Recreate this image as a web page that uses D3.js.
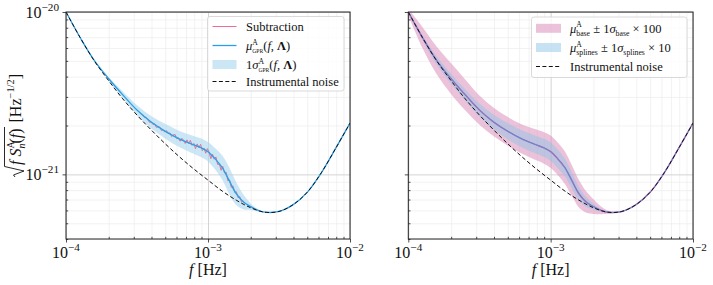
<!DOCTYPE html>
<html>
<head>
<meta charset="utf-8">
<script src="https://cdn.jsdelivr.net/npm/d3@7"></script>
<style>
body { margin: 0; background: #fff; }
svg { display: block; }
</style>
</head>
<body>
<div id="chart"></div>
<script>
// ---- data ----
var noiseF = [1e-4, 1.26e-4, 1.58e-4, 2e-4, 2.51e-4, 3.16e-4, 3.98e-4, 5.01e-4, 6.31e-4, 7.94e-4,
              1e-3, 1.26e-3, 1.58e-3, 2e-3, 2.51e-3, 3.16e-3, 3.98e-3, 5.01e-3, 6.31e-3, 7.94e-3, 1e-2];
var noiseV = [1.00e-20, 6.94e-21, 5.01e-21, 3.77e-21, 2.92e-21, 2.32e-21, 1.88e-21, 1.54e-21, 1.28e-21, 1.08e-21,
              9.22e-22, 7.89e-22, 6.94e-22, 6.23e-22, 5.85e-22, 5.91e-22, 6.51e-22, 7.78e-22, 1.03e-21, 1.45e-21, 2.07e-21];

// GPR mean (left) / spline + base means (right)
var meanF = [1e-4, 1.26e-4, 1.58e-4, 2e-4, 2.51e-4, 3.16e-4, 3.98e-4, 5.01e-4, 6.31e-4, 7.94e-4, 8.91e-4,
             1e-3, 1.12e-3, 1.26e-3, 1.41e-3, 1.58e-3, 1.78e-3, 2e-3, 2.24e-3, 2.51e-3,
             3.16e-3, 3.98e-3, 5.01e-3, 6.31e-3, 7.94e-3, 1e-2];
var meanV = [1.00e-20, 6.94e-21, 5.04e-21, 3.88e-21, 3.09e-21, 2.49e-21, 2.10e-21, 1.84e-21, 1.65e-21, 1.52e-21, 1.46e-21,
             1.38e-21, 1.25e-21, 1.10e-21, 9.15e-22, 7.60e-22, 6.75e-22, 6.33e-22, 6.02e-22, 5.85e-22,
             5.91e-22, 6.51e-22, 7.78e-22, 1.03e-21, 1.45e-21, 2.07e-21];
// half widths of the bands, in decades
var gprSigma    = [0, 0, 0.003, 0.01, 0.02, 0.03, 0.038, 0.045, 0.05, 0.055, 0.058,
                   0.06, 0.066, 0.075, 0.082, 0.07, 0.045, 0.02, 0.006, 0, 0, 0, 0, 0, 0, 0];
var baseSigma   = [0.02, 0.065, 0.085, 0.095, 0.095, 0.09, 0.088, 0.088, 0.09, 0.095, 0.097,
                   0.1, 0.1, 0.1, 0.095, 0.085, 0.065, 0.045, 0.025, 0.01, 0, 0, 0, 0, 0, 0];
var splineSigma = [0.005, 0.015, 0.025, 0.03, 0.035, 0.04, 0.045, 0.05, 0.052, 0.055, 0.056,
                   0.057, 0.057, 0.055, 0.05, 0.042, 0.03, 0.018, 0.008, 0.002, 0, 0, 0, 0, 0, 0];

// subtraction (noisy)
var subF = [3.467e-4, 3.564e-4, 3.664e-4, 3.767e-4, 3.873e-4, 3.981e-4, 4.093e-4, 4.207e-4, 4.325e-4, 4.446e-4,
            4.571e-4, 4.699e-4, 4.831e-4, 4.966e-4, 5.105e-4, 5.248e-4, 5.395e-4, 5.546e-4, 5.702e-4, 5.861e-4,
            6.026e-4, 6.194e-4, 6.368e-4, 6.546e-4, 6.730e-4, 6.918e-4, 7.112e-4, 7.311e-4, 7.516e-4, 7.727e-4,
            7.943e-4, 8.166e-4, 8.395e-4, 8.630e-4, 8.872e-4, 9.120e-4, 9.376e-4, 9.638e-4, 9.908e-4, 1.0186e-3,
            1.0471e-3, 1.0765e-3, 1.1066e-3, 1.1376e-3, 1.1695e-3, 1.2023e-3, 1.2359e-3, 1.2706e-3, 1.3062e-3, 1.3428e-3,
            1.3804e-3, 1.4191e-3, 1.4588e-3, 1.4997e-3, 1.5417e-3, 1.5849e-3, 1.6293e-3, 1.6749e-3, 1.7219e-3, 1.7701e-3, 1.8197e-3];
var subV = [2.34e-21, 2.25e-21, 2.25e-21, 2.17e-21, 2.09e-21, 2.10e-21, 2.03e-21, 2.05e-21, 1.95e-21, 1.96e-21,
            1.96e-21, 1.86e-21, 1.88e-21, 1.82e-21, 1.86e-21, 1.78e-21, 1.80e-21, 1.71e-21, 1.75e-21, 1.76e-21,
            1.66e-21, 1.68e-21, 1.60e-21, 1.67e-21, 1.62e-21, 1.55e-21, 1.63e-21, 1.55e-21, 1.62e-21, 1.51e-21,
            1.55e-21, 1.44e-21, 1.54e-21, 1.46e-21, 1.53e-21, 1.40e-21, 1.45e-21, 1.35e-21, 1.44e-21, 1.37e-21,
            1.25e-21, 1.33e-21, 1.24e-21, 1.28e-21, 1.15e-21, 1.16e-21, 1.06e-21, 1.12e-21, 1.02e-21, 1.03e-21,
            9.13e-22, 9.24e-22, 8.32e-22, 8.49e-22, 7.77e-22, 7.82e-22, 7.18e-22, 7.29e-22, 6.77e-22, 6.85e-22, 6.62e-22];

var xMajor = [1e-4, 1e-3, 1e-2];
var xMinor = [2e-4, 3e-4, 4e-4, 5e-4, 6e-4, 7e-4, 8e-4, 9e-4, 2e-3, 3e-3, 4e-3, 5e-3, 6e-3, 7e-3, 8e-3, 9e-3];
var yMajor = [1e-21, 1e-20];
var yMinor = [4e-22, 5e-22, 6e-22, 7e-22, 8e-22, 9e-22, 2e-21, 3e-21, 4e-21, 5e-21, 6e-21, 7e-21, 8e-21, 9e-21];

// ---- drawing ----
var serif = "'Liberation Serif', 'DejaVu Serif', serif";
var W = 713, H = 285, yTop = 12, yBot = 239;
var svg = d3.select("#chart").append("svg").attr("width", W).attr("height", H);

var y = d3.scaleLog().domain([4e-22, 1e-20]).range([yBot, yTop]);

// text with simple sup/sub parts
function tex(parent, x, yy, parts, fs, anchor) {
    var t = parent.append("text").attr("x", x).attr("y", yy)
        .attr("font-family", serif).attr("font-size", fs).attr("fill", "#111")
        .attr("text-anchor", anchor || "start").style("white-space", "pre");
    var cur = 0, prevW = 0;
    parts.forEach(function(p) {
        var sh = (p.sh || 0) * fs;
        var ts = t.append("tspan").text(p.t)
            .attr("font-size", (p.s || 1) * fs)
            .attr("dy", cur - sh);
        if (p.i) ts.attr("font-style", "italic");
        if (p.b) ts.attr("font-weight", "bold");
        if (p.back) ts.attr("dx", -prevW);
        prevW = ts.node().getComputedTextLength();
        cur = sh;
    });
    return t;
}
var SUP = 0.42, SUB = -0.28;

function styleTicks(s) {
    s.select(".domain").remove();
    s.selectAll("line").attr("stroke", "#222").attr("stroke-width", 0.8);
}

function panel(x0, x1, idx) {
    var x = d3.scaleLog().domain([1e-4, 1e-2]).range([x0, x1]);
    var g = svg.append("g");
    svg.append("clipPath").attr("id", "clip" + idx).append("rect")
        .attr("x", x0).attr("y", yTop).attr("width", x1 - x0).attr("height", yBot - yTop);

    // grid
    g.append("g").attr("transform", "translate(0," + yBot + ")")
        .call(d3.axisBottom(x).tickValues(xMinor).tickSize(-(yBot - yTop)).tickFormat(""))
        .call(function(s) { s.select(".domain").remove(); s.selectAll("line").attr("stroke", "#ececec").attr("stroke-width", 0.7); });
    g.append("g").attr("transform", "translate(" + x0 + ",0)")
        .call(d3.axisLeft(y).tickValues(yMinor).tickSize(-(x1 - x0)).tickFormat(""))
        .call(function(s) { s.select(".domain").remove(); s.selectAll("line").attr("stroke", "#ececec").attr("stroke-width", 0.7); });
    g.append("g").attr("transform", "translate(0," + yBot + ")")
        .call(d3.axisBottom(x).tickValues(xMajor).tickSize(-(yBot - yTop)).tickFormat(""))
        .call(function(s) { s.select(".domain").remove(); s.selectAll("line").attr("stroke", "#cfcfcf").attr("stroke-width", 0.9); });
    g.append("g").attr("transform", "translate(" + x0 + ",0)")
        .call(d3.axisLeft(y).tickValues(yMajor).tickSize(-(x1 - x0)).tickFormat(""))
        .call(function(s) { s.select(".domain").remove(); s.selectAll("line").attr("stroke", "#cfcfcf").attr("stroke-width", 0.9); });

    var plot = svg.append("g").attr("clip-path", "url(#clip" + idx + ")");
    return { x: x, g: g, plot: plot, x0: x0, x1: x1 };
}

function band(p, sig, fill, op) {
    var pts = meanF.map(function(f, i) { return [f, meanV[i], sig[i]]; });
    p.plot.append("path").datum(pts)
        .attr("fill", fill).attr("fill-opacity", op).attr("stroke", "none")
        .attr("d", d3.area()
            .x(function(d) { return p.x(d[0]); })
            .y0(function(d) { return y(d[1] * Math.pow(10, -d[2])); })
            .y1(function(d) { return y(d[1] * Math.pow(10, d[2])); })
            .curve(d3.curveCatmullRom));
}
function drawLine(p, fs, vs, color, w, dash, curve) {
    var pts = fs.map(function(f, i) { return [f, vs[i]]; });
    var path = p.plot.append("path").datum(pts)
        .attr("fill", "none").attr("stroke", color).attr("stroke-width", w)
        .attr("d", d3.line().x(function(d) { return p.x(d[0]); }).y(function(d) { return y(d[1]); }).curve(curve || d3.curveCatmullRom));
    if (dash) path.attr("stroke-dasharray", dash);
}

function drawFrame(p, yLabels) {
    svg.append("rect").attr("x", p.x0).attr("y", yTop).attr("width", p.x1 - p.x0).attr("height", yBot - yTop)
        .attr("fill", "none").attr("stroke", "#222").attr("stroke-width", 1);
    svg.append("g").attr("transform", "translate(0," + yBot + ")")
        .call(d3.axisBottom(p.x).tickValues(xMajor).tickSize(3.5).tickFormat("")).call(styleTicks);
    svg.append("g").attr("transform", "translate(0," + yBot + ")")
        .call(d3.axisBottom(p.x).tickValues(xMinor).tickSize(-2.2).tickFormat("")).call(styleTicks);
    svg.append("g").attr("transform", "translate(" + p.x0 + ",0)")
        .call(d3.axisLeft(y).tickValues(yMajor).tickSize(3.5).tickFormat("")).call(styleTicks);
    svg.append("g").attr("transform", "translate(" + p.x0 + ",0)")
        .call(d3.axisLeft(y).tickValues(yMinor).tickSize(-2.2).tickFormat("")).call(styleTicks);

    xMajor.forEach(function(v) {
        tex(svg, p.x(v), 257.5, [{ t: "10" }, { t: "\u2212" + Math.round(-Math.log10(v)), sh: SUP, s: 0.7 }], 16, "middle");
    });
    if (yLabels) {
        yMajor.forEach(function(v) {
            tex(svg, p.x0 - 7, y(v) + 5.5, [{ t: "10" }, { t: "\u2212" + Math.round(-Math.log10(v)), sh: SUP, s: 0.7 }], 16, "end");
        });
    }
    tex(svg, (p.x0 + p.x1) / 2, 275, [{ t: "f", i: 1 }, { t: " [Hz]" }], 16, "middle");
}

function legend(bx, by, bw, bh, hx0, hx1, tx, rows) {
    var g = svg.append("g");
    g.append("rect").attr("x", bx).attr("y", by).attr("width", bw).attr("height", bh).attr("rx", 2.5)
        .attr("fill", "#fff").attr("fill-opacity", 0.8).attr("stroke", "#d0d0d0").attr("stroke-width", 0.8);
    rows.forEach(function(r) {
        if (r.kind === "patch") {
            g.append("rect").attr("x", hx0).attr("y", r.y - 4.5).attr("width", hx1 - hx0).attr("height", 9)
                .attr("fill", r.color).attr("fill-opacity", r.op);
        } else {
            g.append("line").attr("x1", hx0).attr("x2", hx1).attr("y1", r.y).attr("y2", r.y)
                .attr("stroke", r.color).attr("stroke-width", r.w || 1.1)
                .attr("stroke-dasharray", r.dash || null);
        }
        tex(g, tx, r.y + 4.3, r.parts, 12.5);
    });
}

var BLUE = "#2a9fe8", RED = "#ea6f90", DASH = "4,2.4";

// left panel
var L = panel(66, 350, 0);
band(L, gprSigma, "#a9d5ee", 0.6);
drawLine(L, subF, subV, RED, 1, null, d3.curveLinear);
drawLine(L, meanF, meanV, BLUE, 1.3);
drawLine(L, noiseF, noiseV, "#111", 1, DASH);
drawFrame(L, true);

// right panel
var R = panel(408.3, 693, 1);
band(R, baseSigma, "#dc8fbb", 0.55);
band(R, splineSigma, "#8fc6e6", 0.5);
drawLine(R, meanF, meanV, "#e05aa2", 1.5);
drawLine(R, meanF, meanV, BLUE, 0.9);
drawLine(R, noiseF, noiseV, "#111", 1, DASH);
drawFrame(R, false);

// legends
legend(207.5, 16.5, 136.5, 74.5, 212.5, 236.5, 246, [
    { y: 26.5, kind: "line", color: RED, w: 1, parts: [{ t: "Subtraction" }] },
    { y: 45.5, kind: "line", color: BLUE, w: 1.3, parts: [{ t: "\u03bc", i: 1 }, { t: "A", sh: SUP, s: 0.62 }, { t: "GPR", sh: SUB, s: 0.45, back: 1 },
        { t: "(" }, { t: "f", i: 1 }, { t: ", " }, { t: "\u039b", b: 1 }, { t: ")" }] },
    { y: 64.5, kind: "patch", color: "#a9d5ee", op: 0.6, parts: [{ t: "1" }, { t: "\u03c3", i: 1 }, { t: "A", sh: SUP, s: 0.62 }, { t: "GPR", sh: SUB, s: 0.45, back: 1 },
        { t: "(" }, { t: "f", i: 1 }, { t: ", " }, { t: "\u039b", b: 1 }, { t: ")" }] },
    { y: 81.5, kind: "line", color: "#111", w: 1, dash: DASH, parts: [{ t: "Instrumental noise" }] }
]);
legend(531.5, 17, 155.5, 60.5, 536, 561, 570, [
    { y: 28.3, kind: "patch", color: "#dc8fbb", op: 0.55, parts: [{ t: "\u03bc", i: 1 }, { t: "A", sh: SUP, s: 0.62 }, { t: "base", sh: SUB, s: 0.62, back: 1 },
        { t: " \u00b1 1" }, { t: "\u03c3", i: 1 }, { t: "base", sh: SUB, s: 0.62 }, { t: " \u00d7 100" }] },
    { y: 47.5, kind: "patch", color: "#8fc6e6", op: 0.5, parts: [{ t: "\u03bc", i: 1 }, { t: "A", sh: SUP, s: 0.62 }, { t: "splines", sh: SUB, s: 0.62, back: 1 },
        { t: " \u00b1 1" }, { t: "\u03c3", i: 1 }, { t: "splines", sh: SUB, s: 0.62 }, { t: " \u00d7 10" }] },
    { y: 66.5, kind: "line", color: "#111", w: 1, dash: DASH, parts: [{ t: "Instrumental noise" }] }
]);

// y label with radical
var yl = svg.append("g").attr("transform", "translate(21,125.5) rotate(-90)");
var inner = yl.append("g");
var t1 = tex(inner, 0, 0, [{ t: "f", i: 1 }, { t: " " }, { t: "S", i: 1 }, { t: "A", sh: SUP, s: 0.62 },
    { t: "n", i: 1, sh: SUB, s: 0.62, back: 1 }, { t: "(" }, { t: "f", i: 1 }, { t: ")" }], 16);
var bb1 = t1.node().getBBox();
var innerW = bb1.x + bb1.width;
inner.append("path")
    .attr("d", "M-12,-6 L-10,-7.5 L-6,3 L-1.5,-16.5 L" + (innerW + 1.5) + ",-16.5")
    .attr("fill", "none").attr("stroke", "#111").attr("stroke-width", 0.9);
tex(inner, innerW + 6, 0, [{ t: "[Hz" }, { t: "\u22121/2", sh: 0.45, s: 0.65 }, { t: "]" }], 16);
var bb = inner.node().getBBox();
inner.attr("transform", "translate(" + (-(bb.x + bb.width / 2)) + ",0)");
</script>
</body>
</html>
